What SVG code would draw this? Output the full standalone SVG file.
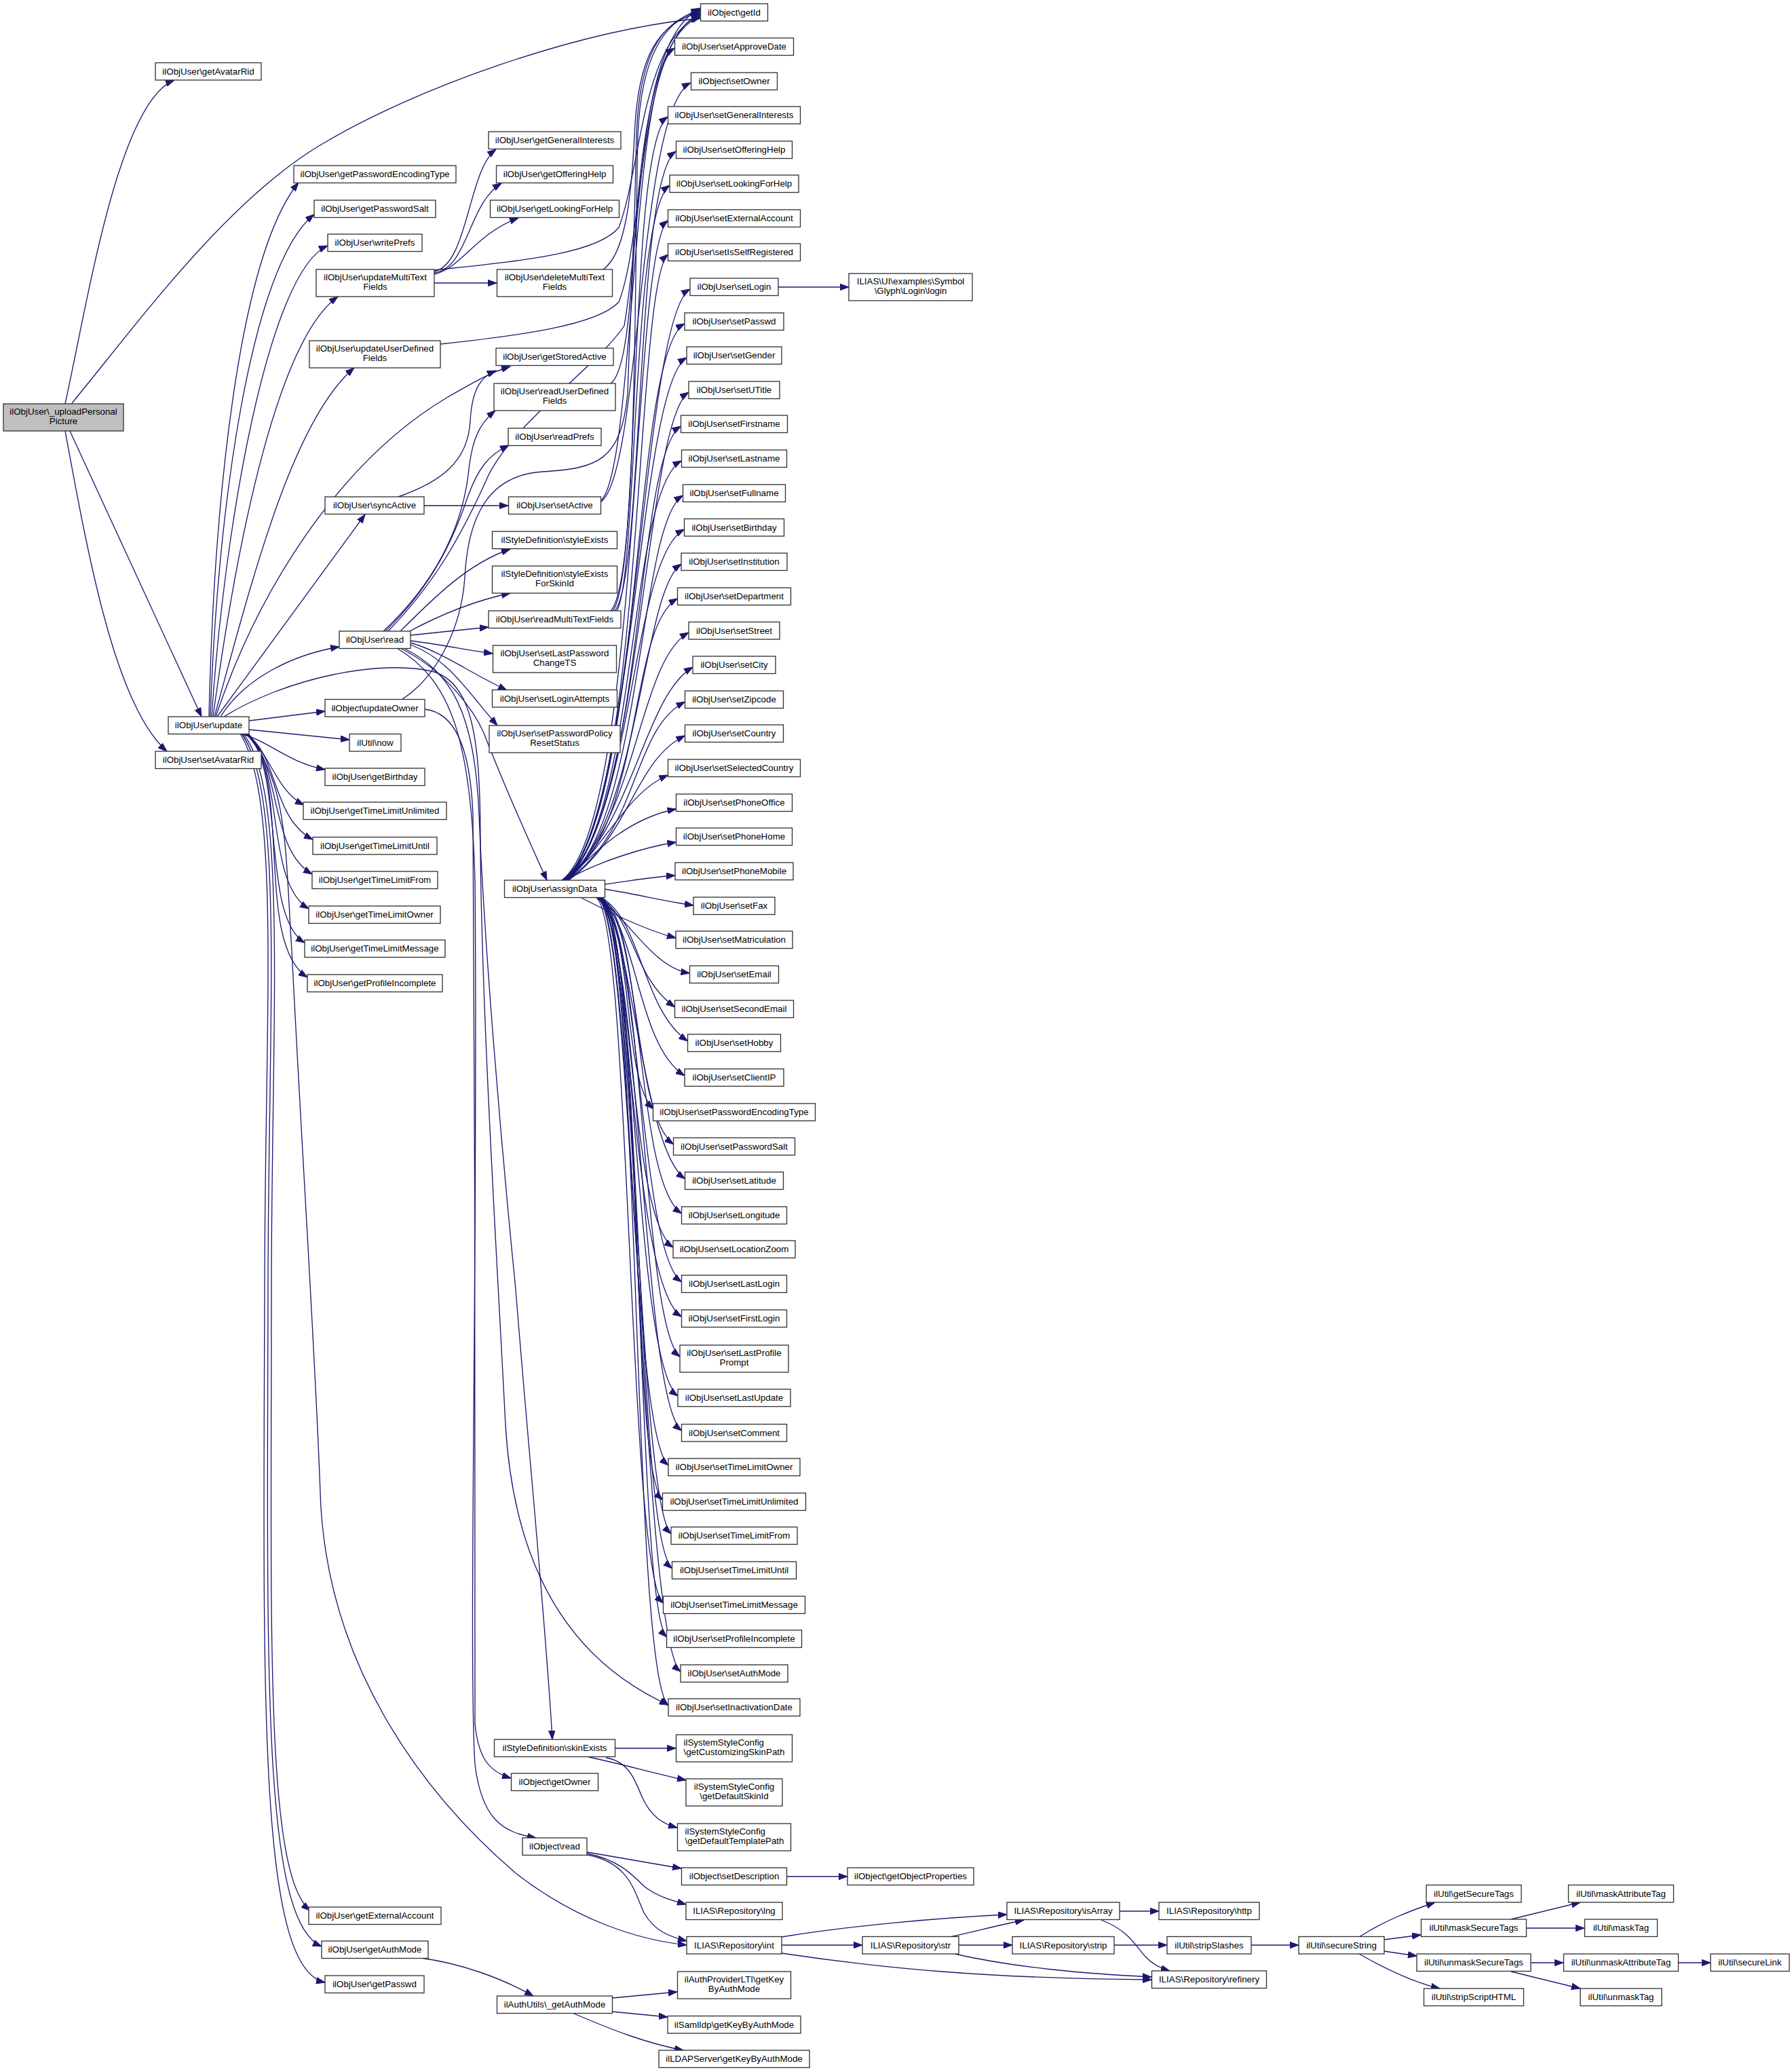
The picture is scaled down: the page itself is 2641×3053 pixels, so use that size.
<svg xmlns="http://www.w3.org/2000/svg" width="2641" height="3053" viewBox="0 0 2641 3053">
<defs>
<style>
.n rect{fill:#ffffff;stroke:#333333;stroke-width:1.33}
.n.root rect{fill:#bfbfbf}
.n text{font-family:"Liberation Sans",Arial,Helvetica,sans-serif;font-size:13.33px;text-anchor:middle;fill:#000000}
.n text.l{text-anchor:start}
.e path{fill:none;stroke:#191970;stroke-width:1.33;marker-end:url(#ah)}
</style>
<marker id="ah" markerUnits="userSpaceOnUse" markerWidth="14" markerHeight="10" refX="13" refY="5" orient="auto" viewBox="0 0 14 10"><path d="M0,0.3 L13,5 L0,9.7 z" fill="#191970" stroke="#191970" stroke-width="1"/></marker>
</defs>
<rect width="2641" height="3053" fill="#ffffff"/>
<g id="edges" class="e">
<path d="M96,595 C130,440 175,150 257,118"/>
<path d="M106,594 C200,480 330,300 470,215 C610,130 850,45 1032,27"/>
<path d="M103,635 L297,1056"/>
<path d="M96,635 C130,820 170,1040 246,1107"/>
<path d="M308,1056 C315,750 350,380 440,269"/>
<path d="M310,1056 C320,750 370,390 463,316"/>
<path d="M312,1056 C330,780 395,400 483,362"/>
<path d="M314,1056 C350,790 410,500 498,437"/>
<path d="M316,1056 C370,860 430,620 522,542"/>
<path d="M318,1056 C380,870 500,680 660,585 C700,562 725,548 752,540"/>
<path d="M320,1056 L538,758"/>
<path d="M325,1056 C360,1000 430,965 500,953"/>
<path d="M367,1062 L479,1048"/>
<path d="M367,1075 L515,1090"/>
<path d="M353,1081 C395,1090 420,1122 479,1134"/>
<path d="M360,1081 C395,1100 405,1165 448,1186"/>
<path d="M362,1081 C410,1110 400,1205 461,1237"/>
<path d="M363,1081 C415,1120 395,1250 460,1288"/>
<path d="M364,1081 C420,1130 390,1300 455,1339"/>
<path d="M365,1081 C420,1140 385,1350 449,1389"/>
<path d="M366,1081 C430,1150 375,1390 453,1440"/>
<path d="M358,1081 C425,1160 400,1500 400,1900 C400,2400 390,2760 457,2815"/>
<path d="M356,1081 C420,1170 395,1500 395,1900 C394,2450 385,2830 474,2868"/>
<path d="M354,1081 C415,1180 390,1500 390,1900 C388,2500 380,2900 479,2921"/>
<path d="M362,1080 C425,1150 420,1250 430,1400 C445,1700 465,2000 472,2200 C480,2450 620,2640 760,2760 C850,2830 940,2858 1012,2866"/>
<path d="M330,1056 C420,1000 560,970 640,990 C700,1010 708,1100 708,1250 C710,1500 735,1900 745,2100 C760,2350 870,2460 985,2512"/>
<path d="M587,732 C650,710 690,680 693,620 C696,570 710,555 731,546"/>
<path d="M625,745 L749,745"/>
<path d="M572,930 C640,860 680,790 720,700 C760,620 880,540 920,480 C950,300 940,60 1032,12"/>
<path d="M565,930 C640,860 680,780 690,700 C695,650 705,625 730,605"/>
<path d="M568,930 C640,860 670,790 690,730 C705,690 720,670 750,656"/>
<path d="M590,930 C640,880 690,830 752,809"/>
<path d="M600,932 C650,905 700,885 752,874"/>
<path d="M605,936 L720,924"/>
<path d="M605,944 C650,950 690,958 726,963"/>
<path d="M605,947 C650,960 690,990 747,1017"/>
<path d="M605,950 C660,970 690,1020 733,1069"/>
<path d="M590,955 C660,990 700,1050 713,1080 C740,1150 780,1240 806,1297"/>
<path d="M595,955 C665,990 700,1050 706,1200 C714,1400 740,1700 760,1900 C780,2150 805,2400 814,2563"/>
<path d="M585,955 C660,1000 695,1080 700,1300 C705,1800 690,2450 700,2600 C710,2680 740,2700 790,2708"/>
<path d="M593,1030 C640,1000 680,930 685,850 C690,760 720,700 800,695 C880,690 915,680 925,580 C935,300 945,60 1032,24"/>
<path d="M626,1045 C670,1050 693,1100 697,1200 C702,1600 698,2300 700,2540 C705,2590 720,2610 753,2620"/>
<path d="M640,400 C690,390 690,250 731,220"/>
<path d="M640,402 C690,395 690,300 739,270"/>
<path d="M640,404 C680,395 700,345 764,321"/>
<path d="M640,398 C760,385 880,375 912,335 C945,250 945,60 1032,22"/>
<path d="M640,417 L732,417"/>
<path d="M649,507 C760,495 880,480 912,445 C950,350 940,60 1032,20"/>
<path d="M889,397 C920,375 930,300 935,200 C940,80 970,35 1032,18"/>
<path d="M900,565 C935,540 935,300 938,200 C942,80 975,30 1032,16"/>
<path d="M900,900 C940,860 935,400 940,200 C945,80 980,30 1032,14"/>
<path d="M903,900 C945,850 925,215 984,172"/>
<path d="M906,900 C950,850 935,265 996,223"/>
<path d="M909,900 C940,850 930,315 987,273"/>
<path d="M885,738 C935,700 930,110 994,71"/>
<path d="M885,740 C945,700 940,160 1018,122"/>
<path d="M1147,423 L1251,423"/>
<path d="M828,1297 C945,1210 930,367 984.5,325"/>
<path d="M830,1297 C950,1210 935,417 984.5,375"/>
<path d="M832,1297 C940,1210 945,468 1017,426"/>
<path d="M829,1297 C948,1210 930,519 1009,477"/>
<path d="M831,1297 C935,1210 940,569 1012,527"/>
<path d="M833,1297 C945,1210 950,620 1015,578"/>
<path d="M830,1297 C950,1210 935,670 1003.5,628"/>
<path d="M832,1297 C940,1210 925,721 1004.5,679"/>
<path d="M834,1297 C948,1210 940,772 1006.5,730"/>
<path d="M831,1297 C935,1210 930,822 1008.5,780"/>
<path d="M833,1297 C945,1210 945,873 1004,831"/>
<path d="M835,1297 C950,1210 925,924 998.5,882"/>
<path d="M832,1297 C940,1210 940,974 1015,932"/>
<path d="M834,1297 C935,1210 950,1025 1021,983"/>
<path d="M836,1297 C945,1220 930,1076 1009.5,1034"/>
<path d="M838,1297 C930,1230 935,1120 1009.5,1084"/>
<path d="M838,1297 C900,1230 930,1165 984.5,1142"/>
<path d="M836,1297 C880,1250 930,1205 996.5,1192"/>
<path d="M834,1297 C880,1270 950,1248 996.5,1241"/>
<path d="M891,1303 C930,1298 960,1292 995,1290"/>
<path d="M891,1310 C940,1318 980,1328 1022,1334"/>
<path d="M857,1323 C900,1345 950,1370 996,1382"/>
<path d="M880,1323 C925,1350 960,1425 1016.5,1434"/>
<path d="M882,1322 C935,1350 930,1437 994.5,1484"/>
<path d="M884,1322 C945,1350 945,1487 1013.5,1534"/>
<path d="M878,1322 C940,1350 935,1538 1009,1585"/>
<path d="M880,1322 C935,1350 915,1589 963,1634"/>
<path d="M882,1322 C945,1350 930,1639 992.5,1686"/>
<path d="M884,1322 C930,1350 945,1690 1009.5,1737"/>
<path d="M886,1322 C950,1350 935,1741 1004.5,1788"/>
<path d="M878,1322 C935,1350 925,1791 992,1838"/>
<path d="M880,1322 C945,1350 940,1842 1004.5,1889"/>
<path d="M882,1322 C930,1350 930,1893 1004.5,1940"/>
<path d="M884,1322 C950,1350 945,1952 1002,1999"/>
<path d="M886,1322 C935,1350 935,2010 999,2057"/>
<path d="M878,1322 C945,1350 945,2061 1004.5,2108"/>
<path d="M880,1322 C930,1350 930,2112 985,2159"/>
<path d="M882,1322 C950,1350 925,2163 976.5,2210"/>
<path d="M884,1322 C935,1350 940,2213 989,2260"/>
<path d="M886,1322 C945,1350 935,2264 990.5,2311"/>
<path d="M878,1322 C930,1350 925,2315 977.5,2362"/>
<path d="M880,1322 C950,1350 935,2365 982.5,2412"/>
<path d="M882,1322 C935,1350 945,2416 1003,2463"/>
<path d="M884,1322 C945,1350 930,2466 985,2513"/>
<path d="M906,2576 L996,2576"/>
<path d="M868,2589 C920,2600 960,2612 1011,2623"/>
<path d="M893,2590 C925,2595 935,2620 945,2645 C960,2680 980,2688 998,2693"/>
<path d="M865,2729 L1004,2753"/>
<path d="M865,2731 C910,2740 930,2760 950,2780 C970,2795 990,2800 1011,2806"/>
<path d="M865,2733 C930,2745 935,2790 950,2820 C965,2845 985,2853 1012,2860"/>
<path d="M620,2885 C680,2893 740,2915 786,2941"/>
<path d="M902,2944 L998,2935"/>
<path d="M902,2964 L984,2972"/>
<path d="M846,2967 C900,2990 950,3010 1007,3021"/>
<path d="M1159,2765 L1249,2765"/>
<path d="M1152,2866 L1271,2866"/>
<path d="M1152,2854 C1250,2838 1380,2826 1484,2821"/>
<path d="M1152,2878 C1300,2900 1450,2915 1697,2917"/>
<path d="M1400,2854 C1440,2845 1475,2836 1509,2829"/>
<path d="M1413,2866 L1492,2866"/>
<path d="M1407,2879 C1500,2900 1600,2908 1697,2913"/>
<path d="M1650,2816 L1708,2816"/>
<path d="M1623,2829 C1665,2845 1675,2870 1690,2885 C1700,2895 1710,2900 1724,2904"/>
<path d="M1642,2866 L1720,2866"/>
<path d="M1844,2866 L1914,2866"/>
<path d="M2003,2854 C2040,2830 2080,2815 2115,2803"/>
<path d="M2040,2858 L2094,2851"/>
<path d="M2040,2875 L2088,2882"/>
<path d="M2003,2879 C2040,2900 2080,2920 2122,2930"/>
<path d="M2227,2828 L2329,2803"/>
<path d="M2249,2841 L2335,2841"/>
<path d="M2256,2892 L2304,2892"/>
<path d="M2227,2905 L2329,2930"/>
<path d="M2473,2892 L2521,2892"/>
</g>
<g id="nodes">
<g id="n_root" class="n root"><rect x="5" y="595" width="177" height="40"/><text x="93.5" y="610.8">ilObjUser\_uploadPersonal</text><text x="93.5" y="624.8">Picture</text></g>
<g id="n_getAvatarRid" class="n"><rect x="229" y="92.5" width="156" height="25.5"/><text x="307" y="109.5">ilObjUser\getAvatarRid</text></g>
<g id="n_update" class="n"><rect x="248" y="1056" width="119" height="25.5"/><text x="307.5" y="1073">ilObjUser\update</text></g>
<g id="n_setAvatarRid" class="n"><rect x="229" y="1107" width="156" height="25.5"/><text x="307" y="1124">ilObjUser\setAvatarRid</text></g>
<g id="n_getPasswordEncodingType" class="n"><rect x="433" y="244" width="239" height="25.5"/><text x="552.5" y="261">ilObjUser\getPasswordEncodingType</text></g>
<g id="n_getPasswordSalt" class="n"><rect x="463" y="295" width="179" height="25.5"/><text x="552.5" y="312">ilObjUser\getPasswordSalt</text></g>
<g id="n_writePrefs" class="n"><rect x="483" y="345" width="139" height="25.5"/><text x="552.5" y="362">ilObjUser\writePrefs</text></g>
<g id="n_updateMultiTextFields" class="n"><rect x="466" y="397" width="174" height="40"/><text x="553" y="412.8">ilObjUser\updateMultiText</text><text x="553" y="426.8">Fields</text></g>
<g id="n_updateUserDefinedFields" class="n"><rect x="456" y="502" width="193" height="40"/><text x="552.5" y="517.8">ilObjUser\updateUserDefined</text><text x="552.5" y="531.8">Fields</text></g>
<g id="n_syncActive" class="n"><rect x="479" y="732" width="146" height="25.5"/><text x="552" y="749">ilObjUser\syncActive</text></g>
<g id="n_read" class="n"><rect x="500" y="930" width="105" height="25.5"/><text x="552.5" y="947">ilObjUser\read</text></g>
<g id="n_updateOwner" class="n"><rect x="479" y="1030.5" width="147" height="25.5"/><text x="552.5" y="1047.5">ilObject\updateOwner</text></g>
<g id="n_now" class="n"><rect x="515" y="1081.5" width="76" height="25.5"/><text x="553" y="1098.5">ilUtil\now</text></g>
<g id="n_getBirthday" class="n"><rect x="479" y="1132" width="147" height="25.5"/><text x="552.5" y="1149">ilObjUser\getBirthday</text></g>
<g id="n_getTimeLimitUnlimited" class="n"><rect x="447" y="1182" width="211" height="25.5"/><text x="552.5" y="1199">ilObjUser\getTimeLimitUnlimited</text></g>
<g id="n_getTimeLimitUntil" class="n"><rect x="461" y="1233.5" width="183" height="25.5"/><text x="552.5" y="1250.5">ilObjUser\getTimeLimitUntil</text></g>
<g id="n_getTimeLimitFrom" class="n"><rect x="460" y="1284" width="185" height="25.5"/><text x="552.5" y="1301">ilObjUser\getTimeLimitFrom</text></g>
<g id="n_getTimeLimitOwner" class="n"><rect x="455" y="1335" width="194" height="25.5"/><text x="552" y="1352">ilObjUser\getTimeLimitOwner</text></g>
<g id="n_getTimeLimitMessage" class="n"><rect x="449" y="1385" width="207" height="25.5"/><text x="552.5" y="1402">ilObjUser\getTimeLimitMessage</text></g>
<g id="n_getProfileIncomplete" class="n"><rect x="453" y="1436" width="199" height="25.5"/><text x="552.5" y="1453">ilObjUser\getProfileIncomplete</text></g>
<g id="n_getExternalAccount" class="n"><rect x="455" y="2810" width="195" height="25.5"/><text x="552.5" y="2827">ilObjUser\getExternalAccount</text></g>
<g id="n_getAuthMode" class="n"><rect x="474" y="2860" width="157" height="25.5"/><text x="552.5" y="2877">ilObjUser\getAuthMode</text></g>
<g id="n_getPasswd" class="n"><rect x="479" y="2911" width="146" height="25.5"/><text x="552" y="2928">ilObjUser\getPasswd</text></g>
<g id="n_getGeneralInterests" class="n"><rect x="720" y="194" width="195" height="25.5"/><text x="817.5" y="211">ilObjUser\getGeneralInterests</text></g>
<g id="n_getOfferingHelp" class="n"><rect x="731.5" y="244" width="172" height="25.5"/><text x="817.5" y="261">ilObjUser\getOfferingHelp</text></g>
<g id="n_getLookingForHelp" class="n"><rect x="722.5" y="295" width="190" height="25.5"/><text x="817.5" y="312">ilObjUser\getLookingForHelp</text></g>
<g id="n_deleteMultiTextFields" class="n"><rect x="732.5" y="397" width="170" height="40"/><text x="817.5" y="412.8">ilObjUser\deleteMultiText</text><text x="817.5" y="426.8">Fields</text></g>
<g id="n_getStoredActive" class="n"><rect x="731" y="513" width="173" height="25.5"/><text x="817.5" y="530">ilObjUser\getStoredActive</text></g>
<g id="n_readUserDefinedFields" class="n"><rect x="728" y="565" width="179" height="40"/><text x="817.5" y="580.8">ilObjUser\readUserDefined</text><text x="817.5" y="594.8">Fields</text></g>
<g id="n_readPrefs" class="n"><rect x="749" y="631" width="137" height="25.5"/><text x="817.5" y="648">ilObjUser\readPrefs</text></g>
<g id="n_setActive" class="n"><rect x="749.5" y="732" width="136" height="25.5"/><text x="817.5" y="749">ilObjUser\setActive</text></g>
<g id="n_styleExists" class="n"><rect x="725.5" y="783" width="184" height="25.5"/><text x="817.5" y="800">ilStyleDefinition\styleExists</text></g>
<g id="n_styleExistsForSkinId" class="n"><rect x="725.5" y="834" width="184" height="40"/><text x="817.5" y="849.8">ilStyleDefinition\styleExists</text><text x="817.5" y="863.8">ForSkinId</text></g>
<g id="n_readMultiTextFields" class="n"><rect x="720" y="900" width="195" height="25.5"/><text x="817.5" y="917">ilObjUser\readMultiTextFields</text></g>
<g id="n_setLastPasswordChangeTS" class="n"><rect x="726.5" y="951" width="182" height="40"/><text x="817.5" y="966.8">ilObjUser\setLastPassword</text><text x="817.5" y="980.8">ChangeTS</text></g>
<g id="n_setLoginAttempts" class="n"><rect x="725.5" y="1016.5" width="184" height="25.5"/><text x="817.5" y="1033.5">ilObjUser\setLoginAttempts</text></g>
<g id="n_setPasswordPolicyResetStatus" class="n"><rect x="721" y="1069" width="193" height="40"/><text x="817.5" y="1084.8">ilObjUser\setPasswordPolicy</text><text x="817.5" y="1098.8">ResetStatus</text></g>
<g id="n_assignData" class="n"><rect x="743.5" y="1297" width="148" height="25.5"/><text x="817.5" y="1314">ilObjUser\assignData</text></g>
<g id="n_skinExists" class="n"><rect x="728.5" y="2563" width="178" height="25.5"/><text x="817.5" y="2580">ilStyleDefinition\skinExists</text></g>
<g id="n_getOwner" class="n"><rect x="753.5" y="2613" width="128" height="25.5"/><text x="817.5" y="2630">ilObject\getOwner</text></g>
<g id="n_objRead" class="n"><rect x="770" y="2708" width="95" height="25.5"/><text x="817.5" y="2725">ilObject\read</text></g>
<g id="n_authUtils" class="n"><rect x="732.5" y="2941" width="170" height="25.5"/><text x="817.5" y="2958">ilAuthUtils\_getAuthMode</text></g>
<g id="n_getId" class="n"><rect x="1032.5" y="5.5" width="99" height="25.5"/><text x="1082" y="22.5">ilObject\getId</text></g>
<g id="n_setApproveDate" class="n"><rect x="994.5" y="56" width="175" height="25.5"/><text x="1082" y="73">ilObjUser\setApproveDate</text></g>
<g id="n_setOwner" class="n"><rect x="1018.5" y="107" width="127" height="25.5"/><text x="1082" y="124">ilObject\setOwner</text></g>
<g id="n_setGeneralInterests" class="n"><rect x="984.5" y="157" width="195" height="25.5"/><text x="1082" y="174">ilObjUser\setGeneralInterests</text></g>
<g id="n_setOfferingHelp" class="n"><rect x="996.5" y="208" width="171" height="25.5"/><text x="1082" y="225">ilObjUser\setOfferingHelp</text></g>
<g id="n_setLookingForHelp" class="n"><rect x="987" y="258" width="190" height="25.5"/><text x="1082" y="275">ilObjUser\setLookingForHelp</text></g>
<g id="n_setExternalAccount" class="n"><rect x="984.5" y="309" width="195" height="25.5"/><text x="1082" y="326">ilObjUser\setExternalAccount</text></g>
<g id="n_setIsSelfRegistered" class="n"><rect x="984.5" y="359" width="195" height="25.5"/><text x="1082" y="376">ilObjUser\setIsSelfRegistered</text></g>
<g id="n_setLogin" class="n"><rect x="1017" y="410" width="130" height="25.5"/><text x="1082" y="427">ilObjUser\setLogin</text></g>
<g id="n_setPasswd" class="n"><rect x="1009" y="461" width="146" height="25.5"/><text x="1082" y="478">ilObjUser\setPasswd</text></g>
<g id="n_setGender" class="n"><rect x="1012" y="511" width="140" height="25.5"/><text x="1082" y="528">ilObjUser\setGender</text></g>
<g id="n_setUTitle" class="n"><rect x="1015" y="562" width="134" height="25.5"/><text x="1082" y="579">ilObjUser\setUTitle</text></g>
<g id="n_setFirstname" class="n"><rect x="1003.5" y="612" width="157" height="25.5"/><text x="1082" y="629">ilObjUser\setFirstname</text></g>
<g id="n_setLastname" class="n"><rect x="1004.5" y="663" width="155" height="25.5"/><text x="1082" y="680">ilObjUser\setLastname</text></g>
<g id="n_setFullname" class="n"><rect x="1006.5" y="714" width="151" height="25.5"/><text x="1082" y="731">ilObjUser\setFullname</text></g>
<g id="n_setBirthday" class="n"><rect x="1008.5" y="764.5" width="147" height="25.5"/><text x="1082" y="781.5">ilObjUser\setBirthday</text></g>
<g id="n_setInstitution" class="n"><rect x="1004" y="815" width="156" height="25.5"/><text x="1082" y="832">ilObjUser\setInstitution</text></g>
<g id="n_setDepartment" class="n"><rect x="998.5" y="866" width="167" height="25.5"/><text x="1082" y="883">ilObjUser\setDepartment</text></g>
<g id="n_setStreet" class="n"><rect x="1015" y="916.5" width="134" height="25.5"/><text x="1082" y="933.5">ilObjUser\setStreet</text></g>
<g id="n_setCity" class="n"><rect x="1021" y="967" width="122" height="25.5"/><text x="1082" y="984">ilObjUser\setCity</text></g>
<g id="n_setZipcode" class="n"><rect x="1009.5" y="1018" width="145" height="25.5"/><text x="1082" y="1035">ilObjUser\setZipcode</text></g>
<g id="n_setCountry" class="n"><rect x="1009.5" y="1068" width="145" height="25.5"/><text x="1082" y="1085">ilObjUser\setCountry</text></g>
<g id="n_setSelectedCountry" class="n"><rect x="984.5" y="1119" width="195" height="25.5"/><text x="1082" y="1136">ilObjUser\setSelectedCountry</text></g>
<g id="n_setPhoneOffice" class="n"><rect x="996.5" y="1170" width="171" height="25.5"/><text x="1082" y="1187">ilObjUser\setPhoneOffice</text></g>
<g id="n_setPhoneHome" class="n"><rect x="996.5" y="1220" width="171" height="25.5"/><text x="1082" y="1237">ilObjUser\setPhoneHome</text></g>
<g id="n_setPhoneMobile" class="n"><rect x="995" y="1271" width="174" height="25.5"/><text x="1082" y="1288">ilObjUser\setPhoneMobile</text></g>
<g id="n_setFax" class="n"><rect x="1022" y="1322" width="120" height="25.5"/><text x="1082" y="1339">ilObjUser\setFax</text></g>
<g id="n_setMatriculation" class="n"><rect x="996" y="1372" width="172" height="25.5"/><text x="1082" y="1389">ilObjUser\setMatriculation</text></g>
<g id="n_setEmail" class="n"><rect x="1016.5" y="1423" width="131" height="25.5"/><text x="1082" y="1440">ilObjUser\setEmail</text></g>
<g id="n_setSecondEmail" class="n"><rect x="994.5" y="1474" width="175" height="25.5"/><text x="1082" y="1491">ilObjUser\setSecondEmail</text></g>
<g id="n_setHobby" class="n"><rect x="1013.5" y="1524" width="137" height="25.5"/><text x="1082" y="1541">ilObjUser\setHobby</text></g>
<g id="n_setClientIP" class="n"><rect x="1009" y="1575" width="146" height="25.5"/><text x="1082" y="1592">ilObjUser\setClientIP</text></g>
<g id="n_setPasswordEncodingType" class="n"><rect x="962.5" y="1626" width="239" height="25.5"/><text x="1082" y="1643">ilObjUser\setPasswordEncodingType</text></g>
<g id="n_setPasswordSalt" class="n"><rect x="992.5" y="1676.5" width="179" height="25.5"/><text x="1082" y="1693.5">ilObjUser\setPasswordSalt</text></g>
<g id="n_setLatitude" class="n"><rect x="1009.5" y="1727" width="145" height="25.5"/><text x="1082" y="1744">ilObjUser\setLatitude</text></g>
<g id="n_setLongitude" class="n"><rect x="1004.5" y="1778" width="155" height="25.5"/><text x="1082" y="1795">ilObjUser\setLongitude</text></g>
<g id="n_setLocationZoom" class="n"><rect x="992" y="1828" width="180" height="25.5"/><text x="1082" y="1845">ilObjUser\setLocationZoom</text></g>
<g id="n_setLastLogin" class="n"><rect x="1004.5" y="1879" width="155" height="25.5"/><text x="1082" y="1896">ilObjUser\setLastLogin</text></g>
<g id="n_setFirstLogin" class="n"><rect x="1004.5" y="1930" width="155" height="25.5"/><text x="1082" y="1947">ilObjUser\setFirstLogin</text></g>
<g id="n_setLastProfilePrompt" class="n"><rect x="1002" y="1982" width="160" height="40"/><text x="1082" y="1997.8">ilObjUser\setLastProfile</text><text x="1082" y="2011.8">Prompt</text></g>
<g id="n_setLastUpdate" class="n"><rect x="999" y="2047" width="166" height="25.5"/><text x="1082" y="2064">ilObjUser\setLastUpdate</text></g>
<g id="n_setComment" class="n"><rect x="1004.5" y="2098.5" width="155" height="25.5"/><text x="1082" y="2115.5">ilObjUser\setComment</text></g>
<g id="n_setTimeLimitOwner" class="n"><rect x="985" y="2149" width="194" height="25.5"/><text x="1082" y="2166">ilObjUser\setTimeLimitOwner</text></g>
<g id="n_setTimeLimitUnlimited" class="n"><rect x="976.5" y="2200" width="211" height="25.5"/><text x="1082" y="2217">ilObjUser\setTimeLimitUnlimited</text></g>
<g id="n_setTimeLimitFrom" class="n"><rect x="989" y="2250" width="186" height="25.5"/><text x="1082" y="2267">ilObjUser\setTimeLimitFrom</text></g>
<g id="n_setTimeLimitUntil" class="n"><rect x="990.5" y="2301" width="183" height="25.5"/><text x="1082" y="2318">ilObjUser\setTimeLimitUntil</text></g>
<g id="n_setTimeLimitMessage" class="n"><rect x="977.5" y="2352" width="209" height="25.5"/><text x="1082" y="2369">ilObjUser\setTimeLimitMessage</text></g>
<g id="n_setProfileIncomplete" class="n"><rect x="982.5" y="2402" width="199" height="25.5"/><text x="1082" y="2419">ilObjUser\setProfileIncomplete</text></g>
<g id="n_setAuthMode" class="n"><rect x="1003" y="2453" width="158" height="25.5"/><text x="1082" y="2470">ilObjUser\setAuthMode</text></g>
<g id="n_setInactivationDate" class="n"><rect x="985" y="2503" width="194" height="25.5"/><text x="1082" y="2520">ilObjUser\setInactivationDate</text></g>
<g id="n_getCustomizingSkinPath" class="n"><rect x="996.5" y="2556" width="171" height="40"/><text class="l" x="1007.5" y="2571.8">ilSystemStyleConfig</text><text class="l" x="1007.5" y="2585.8">\getCustomizingSkinPath</text></g>
<g id="n_getDefaultSkinId" class="n"><rect x="1011" y="2621" width="142" height="40"/><text x="1082" y="2636.8">ilSystemStyleConfig</text><text x="1082" y="2650.8">\getDefaultSkinId</text></g>
<g id="n_getDefaultTemplatePath" class="n"><rect x="998.5" y="2687" width="167" height="40"/><text class="l" x="1009.5" y="2702.8">ilSystemStyleConfig</text><text class="l" x="1009.5" y="2716.8">\getDefaultTemplatePath</text></g>
<g id="n_setDescription" class="n"><rect x="1004.5" y="2752" width="155" height="25.5"/><text x="1082" y="2769">ilObject\setDescription</text></g>
<g id="n_lng" class="n"><rect x="1011" y="2803" width="142" height="25.5"/><text x="1082" y="2820">ILIAS\Repository\lng</text></g>
<g id="n_int" class="n"><rect x="1012" y="2853.5" width="140" height="25.5"/><text x="1082" y="2870.5">ILIAS\Repository\int</text></g>
<g id="n_lti" class="n"><rect x="998.5" y="2905" width="167" height="40"/><text x="1082" y="2920.8">ilAuthProviderLTI\getKey</text><text x="1082" y="2934.8">ByAuthMode</text></g>
<g id="n_saml" class="n"><rect x="984" y="2970.5" width="196" height="25.5"/><text x="1082" y="2987.5">ilSamlIdp\getKeyByAuthMode</text></g>
<g id="n_ldap" class="n"><rect x="971" y="3021" width="222" height="25.5"/><text x="1082" y="3038">ilLDAPServer\getKeyByAuthMode</text></g>
<g id="n_login" class="n"><rect x="1251" y="403" width="182" height="40"/><text x="1342" y="418.8">ILIAS\UI\examples\Symbol</text><text x="1342" y="432.8">\Glyph\Login\login</text></g>
<g id="n_getObjectProperties" class="n"><rect x="1249" y="2752" width="186" height="25.5"/><text x="1342" y="2769">ilObject\getObjectProperties</text></g>
<g id="n_str" class="n"><rect x="1271" y="2853.5" width="142" height="25.5"/><text x="1342" y="2870.5">ILIAS\Repository\str</text></g>
<g id="n_isArray" class="n"><rect x="1484" y="2803" width="166" height="25.5"/><text x="1567" y="2820">ILIAS\Repository\isArray</text></g>
<g id="n_strip" class="n"><rect x="1492" y="2853.5" width="150" height="25.5"/><text x="1567" y="2870.5">ILIAS\Repository\strip</text></g>
<g id="n_http" class="n"><rect x="1708" y="2803" width="148" height="25.5"/><text x="1782" y="2820">ILIAS\Repository\http</text></g>
<g id="n_stripSlashes" class="n"><rect x="1720" y="2853.5" width="124" height="25.5"/><text x="1782" y="2870.5">ilUtil\stripSlashes</text></g>
<g id="n_refinery" class="n"><rect x="1697.5" y="2904" width="169" height="25.5"/><text x="1782" y="2921">ILIAS\Repository\refinery</text></g>
<g id="n_secureString" class="n"><rect x="1914" y="2853.5" width="126" height="25.5"/><text x="1977" y="2870.5">ilUtil\secureString</text></g>
<g id="n_getSecureTags" class="n"><rect x="2102" y="2777.5" width="140" height="25.5"/><text x="2172" y="2794.5">ilUtil\getSecureTags</text></g>
<g id="n_maskSecureTags" class="n"><rect x="2094.5" y="2828" width="155" height="25.5"/><text x="2172" y="2845">ilUtil\maskSecureTags</text></g>
<g id="n_unmaskSecureTags" class="n"><rect x="2088" y="2879" width="168" height="25.5"/><text x="2172" y="2896">ilUtil\unmaskSecureTags</text></g>
<g id="n_stripScriptHTML" class="n"><rect x="2098.5" y="2930" width="147" height="25.5"/><text x="2172" y="2947">ilUtil\stripScriptHTML</text></g>
<g id="n_maskAttributeTag" class="n"><rect x="2311.5" y="2777.5" width="155" height="25.5"/><text x="2389" y="2794.5">ilUtil\maskAttributeTag</text></g>
<g id="n_maskTag" class="n"><rect x="2335.5" y="2828" width="107" height="25.5"/><text x="2389" y="2845">ilUtil\maskTag</text></g>
<g id="n_unmaskAttributeTag" class="n"><rect x="2304.5" y="2879" width="169" height="25.5"/><text x="2389" y="2896">ilUtil\unmaskAttributeTag</text></g>
<g id="n_unmaskTag" class="n"><rect x="2329" y="2930" width="120" height="25.5"/><text x="2389" y="2947">ilUtil\unmaskTag</text></g>
<g id="n_secureLink" class="n"><rect x="2521" y="2879" width="116" height="25.5"/><text x="2579" y="2896">ilUtil\secureLink</text></g>
</g>
</svg>
